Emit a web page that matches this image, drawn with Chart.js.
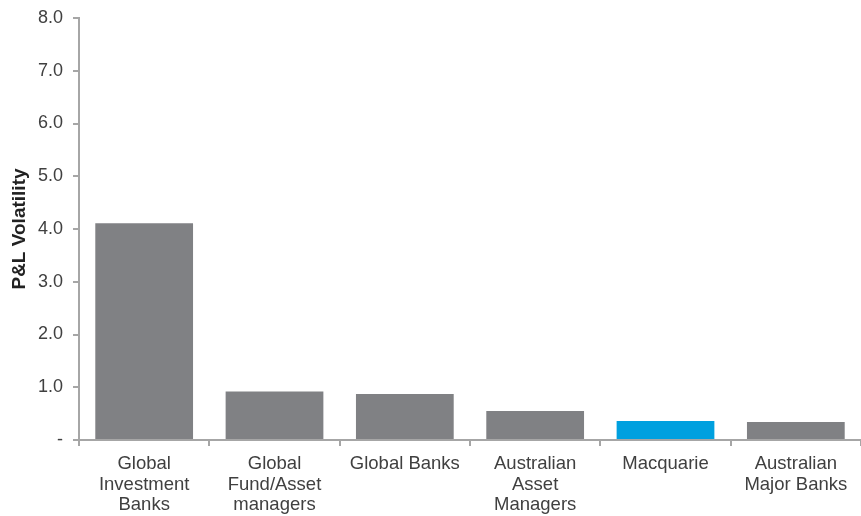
<!DOCTYPE html>
<html>
<head>
<meta charset="utf-8">
<script src="https://cdn.jsdelivr.net/npm/chart.js@4"></script>
<style>
  html, body { margin: 0; padding: 0; background: #ffffff; }
  #wrap { width: 861px; height: 516px; position: relative; }
</style>
</head>
<body>
<div id="wrap"><canvas id="c" width="861" height="516"></canvas></div>
<script>
const categories = [
  ['Global', 'Investment', 'Banks'],
  ['Global', 'Fund/Asset', 'managers'],
  ['Global Banks'],
  ['Australian', 'Asset', 'Managers'],
  ['Macquarie'],
  ['Australian', 'Major Banks']
];
const plVolatility = [4.11, 0.92, 0.87, 0.55, 0.36, 0.34];
const yTicks = [0, 1, 2, 3, 4, 5, 6, 7, 8];
const highlightCategory = 'Macquarie';

const GREY = '#808184';
const BLUE = '#00A0DF';
const AXIS = '#a6a6a6';
const TEXT = '#404040';
const FONT = 'Liberation Sans, Arial, sans-serif';

const barColors = categories.map(c => c.join(' ') === highlightCategory ? BLUE : GREY);

new Chart(document.getElementById('c'), {
  type: 'bar',
  data: {
    labels: categories,
    datasets: [{
      data: plVolatility,
      backgroundColor: barColors,
      borderWidth: 0,
      categoryPercentage: 1.0,
      barPercentage: 0.75
    }]
  },
  options: {
    responsive: false,
    animation: false,
    devicePixelRatio: 1,
    layout: { padding: { top: 18, right: 0, bottom: 0, left: 0 } },
    plugins: { legend: { display: false }, tooltip: { enabled: false } },
    scales: {
      x: {
        offset: true,
        grid: { display: true, drawOnChartArea: false, offset: true, tickLength: 6, color: AXIS, lineWidth: 2 },
        border: { display: true, color: AXIS, width: 2 },
        ticks: {
          color: TEXT,
          font: { family: FONT, size: 18.5, lineHeight: 1.1 },
          padding: 8,
          maxRotation: 0,
          autoSkip: false
        },
        afterFit: (scale) => { scale.height = 76; scale.paddingLeft = 0; scale.paddingRight = 0; }
      },
      y: {
        min: 0,
        max: 8,
        afterBuildTicks: (scale) => { scale.ticks = yTicks.map(v => ({ value: v })); },
        grid: { display: true, drawOnChartArea: false, tickLength: 6, color: AXIS, lineWidth: 2 },
        border: { display: true, color: AXIS, width: 2 },
        ticks: {
          color: TEXT,
          font: { family: FONT, size: 18 },
          padding: 10,
          callback: (v) => v === 0 ? '-' : Number(v).toFixed(1)
        },
        title: {
          display: true,
          text: 'P&L Volatility',
          color: '#222',
          font: { family: FONT, size: 19, weight: 'bold' },
          padding: { top: 8, bottom: 4 }
        },
        afterFit: (scale) => { scale.width = 79; scale.paddingTop = 0; scale.paddingBottom = 0; }
      }
    }
  }
});
</script>
</body>
</html>
